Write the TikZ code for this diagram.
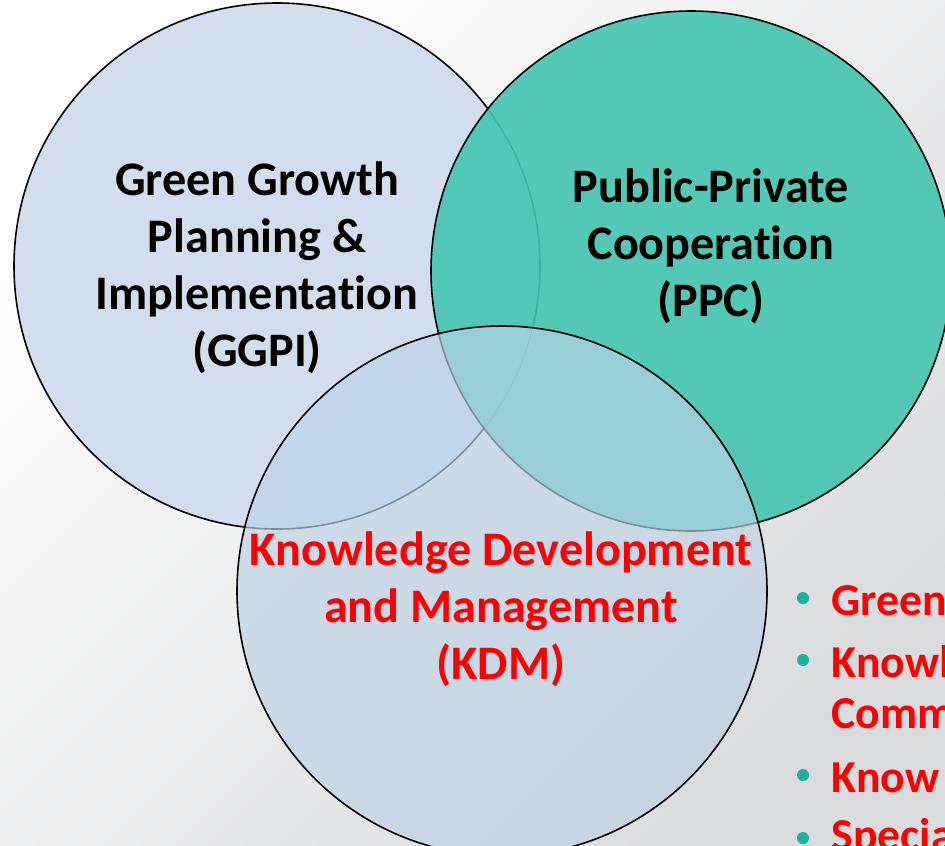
\documentclass[tikz,border=0pt]{standalone}
\usepackage{fontspec}
\setmainfont[Ligatures = NoCommon]{Carlito}
\usepackage{xcolor}
\usepackage{tkz-euclide}
\usetikzlibrary{calc}

\definecolor{bgcorner}{HTML}{DADBDD}
\definecolor{ggpiblue}{HTML}{D2DEEE}
\definecolor{ppcteal}{HTML}{43C5AF}
\definecolor{kdmblue}{HTML}{BDD2E6}
\definecolor{dotteal}{HTML}{19B39B}
\definecolor{kdmred}{HTML}{FF0000}

\tikzset{
  ring/.style = {draw = black, line width = 0.45pt},
  title/.style = {font = \fontsize{13.7}{16.2}\selectfont\bfseries, align = center},
  item/.style = {font = \fontsize{13.0}{15.0}\selectfont\bfseries, text = kdmred,
                 anchor = base west, inner sep = 0pt}
}

\begin{document}
\begin{tikzpicture}
	    \useasboundingbox (0,0) rectangle (9.45,8.45);
	    \shade[top color = white, bottom color = bgcorner, shading angle = 45]
	           (0,0) rectangle (9.45,8.45);
	    % circle centres
	    \tkzDefPoint(2.77,5.79){c_g}
	    \tkzDefPoint(6.91,5.74){c_p}
	    \tkzDefPoint(5.02,2.54){c_k}
	    \fill[ggpiblue] (c_g) circle (2.63);
	    \draw[ring] (c_g) circle (2.63);
	    \fill[ppcteal, fill opacity = 0.9] (c_p) circle (2.60);
	    \draw[ring] (c_p) circle (2.60);
	    \fill[kdmblue, fill opacity = 0.67] (c_k) circle (2.65);
	    \draw[ring] (c_k) circle (2.65);
	    % labels
	    \node[title] (ggpi) at (2.57,5.77) {Green Growth\\Planning \&\\Implementation\\(GGPI)};
	    \node[title] (ppc) at (7.11,5.99) {Public-Private\\Cooperation\\(PPC)};
	    \node[title, text = kdmred] (kdm) at (5.01,2.36) {Knowledge Development\\and Management\\(KDM)};
	    % bullet list
	    \foreach \y [count = \i] in {2.47, 1.85, 0.70, 0.07}
	        \fill[dotteal] (8.03,\y) circle (0.06);
	    \node[item] (it_1) at (8.31,2.30) {Green};
	    \node[item] (it_2) at (8.31,1.68) {Knowl};
	    \node[item] (it_3) at (8.31,1.17) {Comm};
	    \node[item] (it_4) at (8.31,0.53) {Know};
	    \node[item] (it_5) at (8.31,-0.05) {Specia};
	\end{tikzpicture}
\end{document}
